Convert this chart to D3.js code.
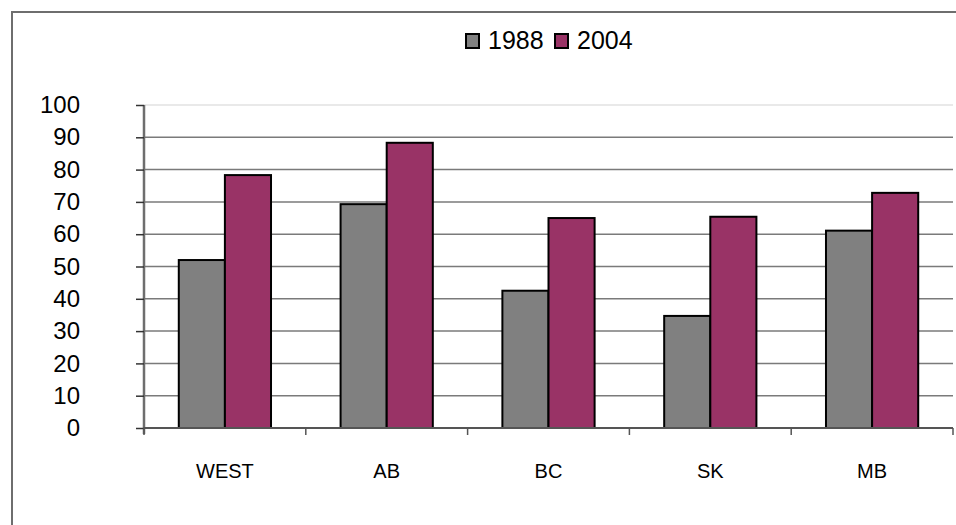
<!DOCTYPE html>
<html>
<head>
<meta charset="utf-8">
<script src="https://cdn.jsdelivr.net/npm/d3@7"></script>
<style>
  body { margin: 0; background: #fff; }
  svg { display: block; font-family: "Liberation Sans", Arial, sans-serif; }
</style>
</head>
<body>
<div id="chart"></div>
<script>
const categories = ["WEST", "AB", "BC", "SK", "MB"];
const seriesNames = ["1988", "2004"];
const values1988 = [52, 69.3, 42.5, 34.7, 61.1];
const values2004 = [78.3, 88.3, 65, 65.4, 72.8];
const yTicks = [0, 10, 20, 30, 40, 50, 60, 70, 80, 90, 100];
const colors = ["#808080", "#993366"];

const width = 956, height = 525;
const margin = { top: 105, right: 3, bottom: 97, left: 144 };
const innerW = width - margin.left - margin.right;
const innerH = height - margin.top - margin.bottom;

const svg = d3.select("#chart").append("svg")
    .attr("width", width)
    .attr("height", height);

// outer chart border (right and bottom fall outside the picture)
svg.append("rect")
    .attr("x", 12).attr("y", 12)
    .attr("width", width).attr("height", height)
    .attr("fill", "none")
    .attr("stroke", "#6e6e6e")
    .attr("stroke-width", 2);

const g = svg.append("g")
    .attr("transform", "translate(" + margin.left + "," + margin.top + ")");

const x0 = d3.scaleBand()
    .domain(categories)
    .range([0, innerW])
    .paddingInner(0.43)
    .paddingOuter(0.215);

const x1 = d3.scaleBand()
    .domain(seriesNames)
    .range([0, x0.bandwidth()]);

const y = d3.scaleLinear()
    .domain([0, 100])
    .range([innerH, 0]);

// gridlines
g.selectAll(".grid")
    .data(yTicks.filter(d => d > 0))
    .enter().append("line")
    .attr("x1", 0).attr("x2", innerW)
    .attr("y1", d => y(d)).attr("y2", d => y(d))
    .attr("stroke", d => d === 100 ? "#e2e2e2" : "#7a7a7a")
    .attr("stroke-width", 1.5);

// bars
const rows = categories.map((c, i) => ({ cat: c, vals: [values1988[i], values2004[i]] }));
const groups = g.selectAll(".group")
    .data(rows)
    .enter().append("g")
    .attr("transform", d => "translate(" + x0(d.cat) + ",0)");

groups.selectAll("rect")
    .data(d => d.vals.map((v, j) => ({ s: seriesNames[j], v: v, j: j })))
    .enter().append("rect")
    .attr("x", d => x1(d.s))
    .attr("y", d => y(d.v))
    .attr("width", x1.bandwidth())
    .attr("height", d => innerH - y(d.v))
    .attr("fill", d => colors[d.j])
    .attr("stroke", "#000")
    .attr("stroke-width", 2);

// y axis
const yAxis = g.append("g")
    .call(d3.axisLeft(y).tickValues(yTicks).tickSize(8).tickPadding(56));
yAxis.select(".domain").attr("stroke", "#6e6e6e").attr("stroke-width", 2.5)
    .attr("d", "M0," + (innerH + 6) + "V0");
yAxis.selectAll(".tick line").attr("stroke", "#333").attr("stroke-width", 1.5);
yAxis.selectAll(".tick text")
    .attr("fill", "#000")
    .style("font-size", "24px")
    .attr("font-family", "Liberation Sans, Arial, sans-serif");

// x axis
const bounds = d3.range(categories.length + 1).map(i => i * x0.step());
const xAxis = g.append("g").attr("transform", "translate(0," + innerH + ")");
xAxis.append("line")
    .attr("x1", 0).attr("x2", innerW)
    .attr("stroke", "#555").attr("stroke-width", 2);
xAxis.selectAll(".xt")
    .data(bounds)
    .enter().append("line")
    .attr("x1", d => d).attr("x2", d => d)
    .attr("y1", 0).attr("y2", 7)
    .attr("stroke", "#555").attr("stroke-width", 1.5);
xAxis.selectAll(".xl")
    .data(categories)
    .enter().append("text")
    .attr("x", d => x0(d) + x0.bandwidth() / 2)
    .attr("y", 50)
    .attr("text-anchor", "middle")
    .style("font-size", "20px")
    .text(d => d);

// legend
const legend = svg.append("g").attr("transform", "translate(466,34)");
const legendX = [0, 89];
seriesNames.forEach((s, i) => {
    legend.append("rect")
        .attr("x", legendX[i]).attr("y", 0)
        .attr("width", 13).attr("height", 14)
        .attr("fill", colors[i])
        .attr("stroke", "#000").attr("stroke-width", 2);
    legend.append("text")
        .attr("x", legendX[i] + 22).attr("y", 15)
        .style("font-size", "25px")
        .text(s);
});
</script>
</body>
</html>
